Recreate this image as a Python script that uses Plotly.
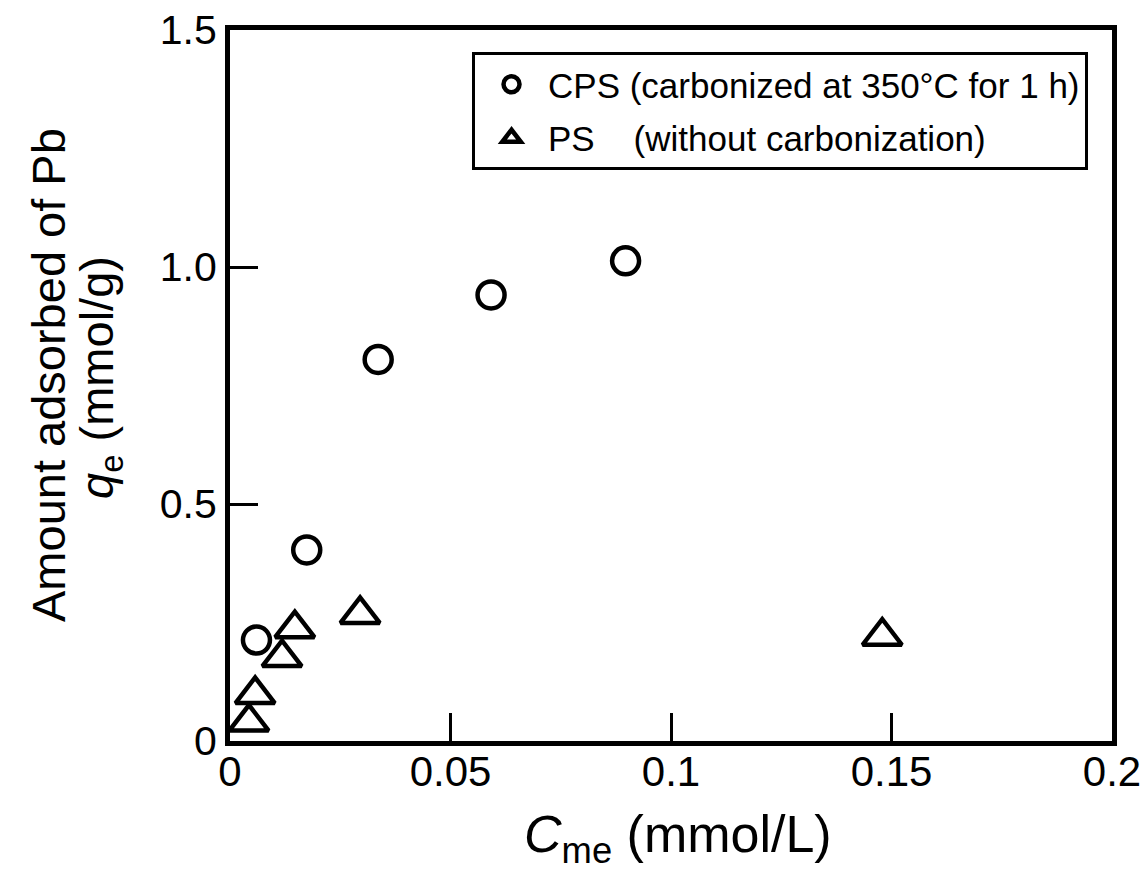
import plotly.graph_objects as go

# ---- data ----
cps_name = "CPS (carbonized at 350°C for 1 h)"
cps_x = [0.0060, 0.0174, 0.0336, 0.0592, 0.0897]
cps_y = [0.213, 0.403, 0.805, 0.941, 1.013]

ps_name = "PS\u00a0\u00a0\u00a0\u00a0(without carbonization)"
ps_x = [0.0043, 0.0057, 0.0118, 0.0147, 0.0295, 0.1479]
ps_y = [0.040, 0.098, 0.176, 0.237, 0.267, 0.221]

x_tickvals = [0, 0.05, 0.1, 0.15, 0.2]
x_ticktext = ["0", "0.05", "0.1", "0.15", "0.2"]
y_tickvals = [0, 0.5, 1.0, 1.5]
y_ticktext = ["0", "0.5", "1.0", "1.5"]

x_title = "<i>C</i><sub>me</sub> (mmol/L)"
y_title_1 = "Amount adsorbed of Pb"
y_title_2 = "<i>q</i><sub>e</sub> (mmol/g)"

FONT = "Liberation Sans, Arial, Helvetica, sans-serif"

fig = go.Figure()
fig.add_trace(go.Scatter(
    x=cps_x, y=cps_y, mode="markers", name=cps_name, legendgroup="a",
    marker=dict(symbol="circle-open", size=27, color="black",
                line=dict(width=4.5, color="black")),
))
fig.add_trace(go.Scatter(
    x=ps_x, y=ps_y, mode="markers", name=ps_name, legendgroup="b",
    marker=dict(symbol="triangle-up-open", size=34, color="black",
                line=dict(width=4.5, color="black")),
))

axis_common = dict(
    showline=True, linecolor="black", linewidth=5, mirror=True,
    ticks="inside", ticklen=28, tickwidth=3, tickcolor="black",
    showgrid=False, zeroline=False, ticklabeloverflow="allow",
    automargin=False,
)

fig.update_layout(
    width=1145, height=884,
    margin=dict(l=230, r=33, t=30, b=143),
    paper_bgcolor="white", plot_bgcolor="white",
    font=dict(family=FONT, color="black"),
    xaxis=dict(range=[0, 0.2], tickmode="array", tickvals=x_tickvals,
               ticktext=x_ticktext, ticklabelstandoff=-10,
               tickfont=dict(family=FONT, size=42, color="black"),
               **axis_common),
    yaxis=dict(range=[0, 1.5], tickmode="array", tickvals=y_tickvals,
               ticktext=y_ticktext, ticklabelstandoff=0,
               tickfont=dict(family=FONT, size=41, color="black"),
               **axis_common),
    showlegend=True,
    legend=dict(
        x=0.2744, y=0.969, xanchor="left", yanchor="top",
        bgcolor="white", bordercolor="black", borderwidth=3,
        font=dict(family=FONT, size=35, color="black"),
        tracegroupgap=5, itemwidth=63,
    ),
    annotations=[
        dict(text=x_title, xref="paper", yref="paper", x=0.5079, y=-0.1364,
             xanchor="center", yanchor="middle", showarrow=False,
             font=dict(family=FONT, size=52, color="black")),
        dict(text=y_title_1, xref="paper", yref="paper", x=-0.2052, y=0.5148,
             xanchor="center", yanchor="middle", textangle=-90, showarrow=False,
             font=dict(family=FONT, size=47, color="black")),
        dict(text=y_title_2, xref="paper", yref="paper", x=-0.1474, y=0.512,
             xanchor="center", yanchor="middle", textangle=-90, showarrow=False,
             font=dict(family=FONT, size=47, color="black")),
    ],
)

fig.write_html("out.html")
